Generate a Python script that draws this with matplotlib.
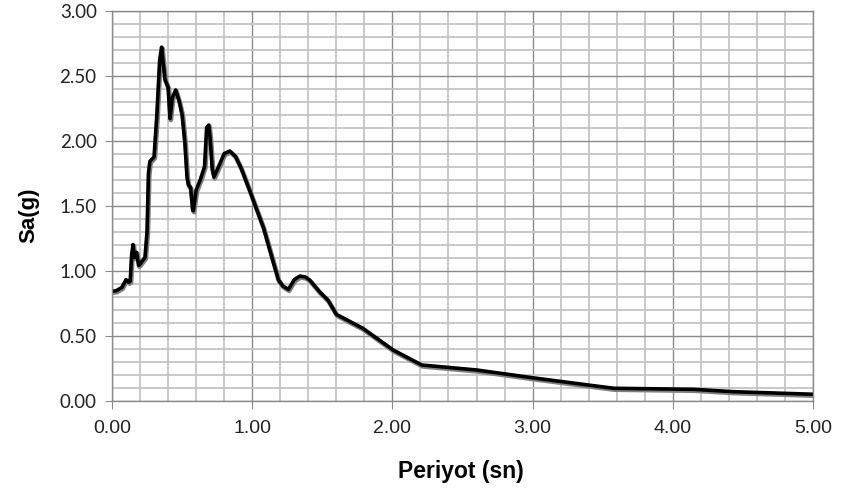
import matplotlib
matplotlib.use("Agg")
import matplotlib.pyplot as plt
import matplotlib.patheffects as pe
from matplotlib.ticker import MultipleLocator, FormatStrFormatter

period = [0.00, 0.03, 0.07, 0.10, 0.12, 0.13, 0.14, 0.15, 0.16, 0.175, 0.19, 0.20, 0.22, 0.235,
          0.25, 0.26, 0.27, 0.30, 0.32, 0.34, 0.354, 0.365, 0.378, 0.40, 0.414, 0.43, 0.454,
          0.48, 0.50, 0.52, 0.535, 0.545, 0.56, 0.575, 0.58, 0.60, 0.63, 0.66, 0.675, 0.69,
          0.70, 0.715, 0.727, 0.76, 0.80, 0.84, 0.88, 0.92, 0.97, 1.08, 1.186, 1.22, 1.258,
          1.30, 1.34, 1.38, 1.41, 1.48, 1.54, 1.60, 1.79, 2.006, 2.21, 2.60, 3.00, 3.39, 3.58,
          4.15, 4.43, 5.00]
sa = [0.84, 0.845, 0.87, 0.93, 0.91, 0.92, 1.12, 1.20, 1.10, 1.14, 1.04, 1.05, 1.08, 1.10,
      1.30, 1.75, 1.84, 1.875, 2.20, 2.62, 2.72, 2.60, 2.47, 2.41, 2.17, 2.33, 2.39,
      2.30, 2.20, 1.98, 1.72, 1.66, 1.64, 1.47, 1.46, 1.62, 1.70, 1.80, 2.10, 2.12,
      2.02, 1.78, 1.72, 1.80, 1.90, 1.92, 1.88, 1.79, 1.65, 1.33, 0.93, 0.88, 0.855,
      0.93, 0.958, 0.95, 0.927, 0.837, 0.773, 0.663, 0.555, 0.388, 0.273, 0.235, 0.175, 0.12, 0.094,
      0.086, 0.068, 0.048]

x_label = "Periyot (sn)"
y_label = "Sa(g)"

fig = plt.figure(figsize=(8.41, 4.90), dpi=100)
ax = fig.add_axes([112/841, 1-400.5/490, (813-112)/841, (400.5-10.7)/490])

ax.set_xlim(0, 5)
ax.set_ylim(0, 3)
ax.xaxis.set_major_locator(MultipleLocator(1.0))
ax.xaxis.set_minor_locator(MultipleLocator(0.2))
ax.yaxis.set_major_locator(MultipleLocator(0.5))
ax.yaxis.set_minor_locator(MultipleLocator(0.1))
ax.xaxis.set_major_formatter(FormatStrFormatter("%.2f"))
ax.yaxis.set_major_formatter(FormatStrFormatter("%.2f"))

ax.grid(which="minor", color="#c4c4c4", linewidth=1.3)
ax.grid(which="major", color="#8a8a8a", linewidth=1.0)
ax.set_axisbelow(True)
for s in ax.spines.values():
    s.set_color("#8a8a8a")
    s.set_linewidth(1.0)

ax.tick_params(axis="both", which="minor", length=0)
ax.tick_params(axis="x", which="major", length=6, color="#8a8a8a", direction="out", pad=8)
ax.tick_params(axis="y", which="major", length=5, color="#8a8a8a", direction="out", pad=6)

for lbl in ax.get_xticklabels():
    lbl.set_fontfamily(["Liberation Sans", "DejaVu Sans"])
    lbl.set_fontsize(14)
    lbl.set_color("#222222")
for lbl in ax.get_yticklabels():
    lbl.set_fontfamily(["Lato", "DejaVu Sans"])
    lbl.set_fontsize(13.5)
    lbl.set_color("#222222")

ax.plot(period, sa, color="black", linewidth=2.6, solid_joinstyle="round",
        path_effects=[pe.SimpleLineShadow(offset=(0.6, -1.0), shadow_color="#808080", alpha=1.0, linewidth=3.4),
                      pe.Normal()])

ax.set_xlabel(x_label, fontsize=16.5, fontweight="bold", family=["Liberation Sans", "DejaVu Sans"])
ax.set_ylabel(y_label, fontsize=16, fontweight="bold", family=["Liberation Sans", "DejaVu Sans"])
ax.xaxis.set_label_coords(0.497, -0.152)
ax.yaxis.set_label_coords(-0.103, 0.475)

fig.savefig("out.png", dpi=100)
